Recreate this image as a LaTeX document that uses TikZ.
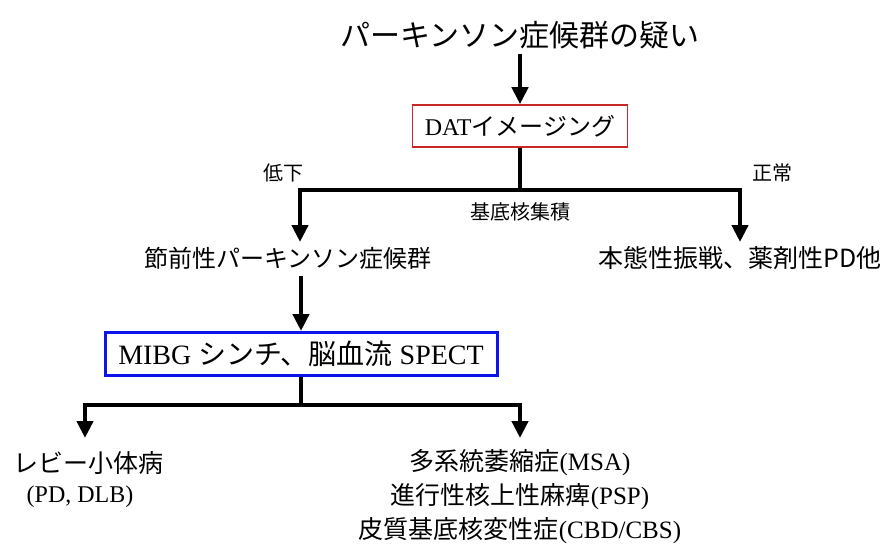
\documentclass[tikz,border=0pt]{standalone}
\usepackage{fontspec}
\setmainfont{Liberation Serif}
\newfontfamily\jp{Noto Sans CJK JP}
\usetikzlibrary{arrows.meta}
\definecolor{boxred}{RGB}{200,40,40}
\definecolor{boxblue}{RGB}{10,20,235}
\tikzset{
  conn/.style={line width=4.5pt, line join=miter},
  arr/.style={conn, -{Triangle[width=16pt,length=17pt]}},
  fs/.style={font=\fontsize{#1}{#1}\selectfont, inner sep=1pt},
}
\begin{document}
\begin{tikzpicture}[x=1pt,y=-1pt]
\useasboundingbox (0,0) rectangle (890,550);
\node[fs=30] (title) at (520,35) {\jp パーキンソン症候群の疑い};
\node[draw=boxred, line width=1.6pt, minimum width=215pt, minimum height=42pt, fs=24] (dat) at (520,126) {DAT{\jp イメージング}};
\draw[arr] (title.south) ++(0,4) -- (dat.north);

\coordinate (j1) at (520,190);
\coordinate (lt) at (300,242);
\coordinate (rt) at (740,242);
\draw[conn] (dat.south) -- (j1);
\draw[arr] (j1) -| (lt);
\draw[arr] (j1) -| (rt);

\node[fs=20] (low) at (283,173) {\jp 低下};
\node[fs=20] (norm) at (772,173) {\jp 正常};
\node[fs=20] (bg) at (520,212) {\jp 基底核集積};

\node[fs=24] (pre) at (288,258) {\jp 節前性パーキンソン症候群};
\node[fs=25] (other) at (740,258) {\jp 本態性振戦、薬剤性PD他};

\node[draw=boxblue, line width=3pt, minimum width=392pt, minimum height=43pt, fs=28] (mibg) at (301,354) {MIBG {\jp シンチ、脳血流} SPECT};
\draw[arr] (mibg.north |- pre.south) ++(0,6) -- (mibg.north);

\coordinate (j2) at (301,405);
\coordinate (lt2) at (85,438);
\coordinate (rt2) at (520,438);
\draw[conn] (mibg.south) -- (j2);
\draw[arr] (j2) -| (lt2);
\draw[arr] (j2) -| (rt2);

\node[fs=25] (lewy) at (88,463) {\jp レビー小体病};
\node[fs=24] (pdlb) at (80,497) {(PD, DLB)};
\node[fs=25] (msa) at (520,463) {{\jp 多系統萎縮症}(MSA)};
\node[fs=25] (psp) at (520,497) {{\jp 進行性核上性麻痺}(PSP)};
\node[fs=25] (cbd) at (520,531) {{\jp 皮質基底核変性症}(CBD/CBS)};
\end{tikzpicture}
\end{document}
